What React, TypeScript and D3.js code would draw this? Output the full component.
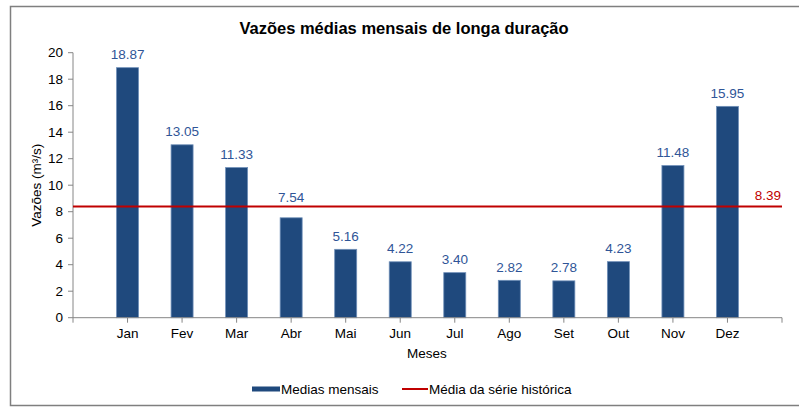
import { useEffect, useRef } from "react"
import * as d3 from "d3"

const months = ["Jan", "Fev", "Mar", "Abr", "Mai", "Jun", "Jul", "Ago", "Set", "Out", "Nov", "Dez"]
const monthlyFlow = [18.87, 13.05, 11.33, 7.54, 5.16, 4.22, 3.4, 2.82, 2.78, 4.23, 11.48, 15.95]
const historicMean = 8.39
const yTicks = [0, 2, 4, 6, 8, 10, 12, 14, 16, 18, 20]

const barColor = "#1f497d"
const labelColor = "#2f5597"
const lineColor = "#c00000"
const axisColor = "#868686"
const font = "'Liberation Sans', Arial, sans-serif"
const fs = "13.5px"

export default function App() {
  const svgRef = useRef<SVGSVGElement>(null)

  useEffect(() => {
    if (!svgRef.current) return
    const svg = d3.select(svgRef.current)
    svg.selectAll("*").remove()

    const width = 799
    const left = 73
    const right = 782
    const top = 52.7
    const bottom = 317.7

    // frame
    svg.append("rect")
      .attr("x", 10.5)
      .attr("y", 6.5)
      .attr("width", width + 10)
      .attr("height", 399)
      .attr("fill", "white")
      .attr("stroke", "#7f7f7f")
      .attr("stroke-width", 1.5)

    const x = d3.scalePoint<string>().domain(months).range([left, right]).padding(1)
    const y = d3.scaleLinear().domain([0, 20]).range([bottom, top])
    const barW = 22

    // title
    svg.append("text")
      .attr("x", 404)
      .attr("y", 34)
      .attr("text-anchor", "middle")
      .attr("font-family", font)
      .attr("font-size", "16.5px")
      .attr("font-weight", "bold")
      .attr("fill", "#000")
      .text("Vazões médias mensais de longa duração")

    // y axis
    svg.append("line")
      .attr("x1", left).attr("x2", left)
      .attr("y1", top).attr("y2", bottom)
      .attr("stroke", axisColor)
    svg.selectAll(".ytick")
      .data(yTicks)
      .join("line")
      .attr("x1", left - 5).attr("x2", left)
      .attr("y1", (d) => y(d)).attr("y2", (d) => y(d))
      .attr("stroke", axisColor)
    svg.selectAll(".ylab")
      .data(yTicks)
      .join("text")
      .attr("x", left - 10)
      .attr("y", (d) => y(d))
      .attr("dy", "0.35em")
      .attr("text-anchor", "end")
      .attr("font-family", font)
      .attr("font-size", fs)
      .attr("fill", "#000")
      .text((d) => d)

    svg.append("text")
      .attr("transform", `translate(41, ${(top + bottom) / 2}) rotate(-90)`)
      .attr("text-anchor", "middle")
      .attr("font-family", font)
      .attr("font-size", fs)
      .attr("fill", "#000")
      .text("Vazões (m³/s)")

    // bars
    svg.selectAll(".bar")
      .data(monthlyFlow)
      .join("rect")
      .attr("x", (_, i) => x(months[i])! - barW / 2)
      .attr("y", (d) => y(d))
      .attr("width", barW)
      .attr("height", (d) => bottom - y(d))
      .attr("fill", barColor)
      .attr("stroke", "#6f8fb8")
      .attr("stroke-width", 0.8)

    // the Abr label sits above the mean line in the original
    svg.selectAll(".vlab")
      .data(monthlyFlow)
      .join("text")
      .attr("x", (_, i) => x(months[i])!)
      .attr("y", (d, i) => y(d) - (months[i] === "Abr" ? 16 : 8.5))
      .attr("text-anchor", "middle")
      .attr("font-family", font)
      .attr("font-size", fs)
      .attr("fill", labelColor)
      .text((d) => d.toFixed(2))

    // x axis
    svg.append("line")
      .attr("x1", left).attr("x2", right)
      .attr("y1", bottom).attr("y2", bottom)
      .attr("stroke", axisColor)
    const xTickPos = [left, ...months.map((m) => x(m)!), right]
    svg.selectAll(".xtick")
      .data(xTickPos)
      .join("line")
      .attr("x1", (d) => d).attr("x2", (d) => d)
      .attr("y1", bottom).attr("y2", bottom + 5)
      .attr("stroke", axisColor)
    svg.selectAll(".xlab")
      .data(months)
      .join("text")
      .attr("x", (d) => x(d)!)
      .attr("y", bottom + 20)
      .attr("text-anchor", "middle")
      .attr("font-family", font)
      .attr("font-size", fs)
      .attr("fill", "#000")
      .text((d) => d)

    svg.append("text")
      .attr("x", 427)
      .attr("y", 358)
      .attr("text-anchor", "middle")
      .attr("font-family", font)
      .attr("font-size", fs)
      .attr("fill", "#000")
      .text("Meses")

    // historic mean line
    svg.append("line")
      .attr("x1", left).attr("x2", right)
      .attr("y1", y(historicMean)).attr("y2", y(historicMean))
      .attr("stroke", lineColor)
      .attr("stroke-width", 2)
    svg.append("text")
      .attr("x", right - 1)
      .attr("y", y(historicMean) - 7)
      .attr("text-anchor", "end")
      .attr("font-family", font)
      .attr("font-size", fs)
      .attr("fill", lineColor)
      .text(historicMean.toFixed(2))

    // legend
    const ly = 389
    svg.append("rect")
      .attr("x", 252).attr("y", ly - 2.5)
      .attr("width", 28).attr("height", 5)
      .attr("fill", barColor)
    svg.append("text")
      .attr("x", 281).attr("y", ly)
      .attr("dy", "0.35em")
      .attr("font-family", font)
      .attr("font-size", fs)
      .attr("fill", "#000")
      .text("Medias mensais")
    svg.append("line")
      .attr("x1", 402).attr("x2", 428)
      .attr("y1", ly).attr("y2", ly)
      .attr("stroke", lineColor)
      .attr("stroke-width", 2)
    svg.append("text")
      .attr("x", 429).attr("y", ly)
      .attr("dy", "0.35em")
      .attr("font-family", font)
      .attr("font-size", fs)
      .attr("fill", "#000")
      .text("Média da série histórica")
  }, [])

  return (
    <svg
      ref={svgRef}
      width={799}
      height={409}
      style={{ position: "absolute", left: 0, top: 0, display: "block" }}
    />
  )
}
